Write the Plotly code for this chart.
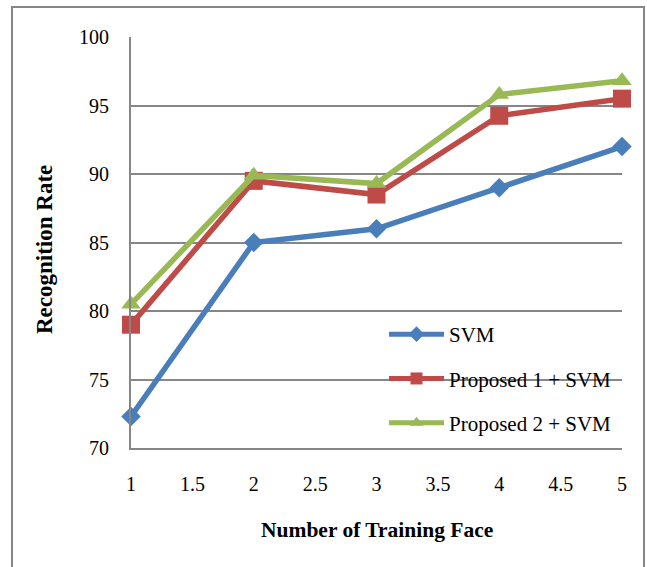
import plotly.graph_objects as go

# Recognition rate vs. number of training faces
training_faces = [1, 2, 3, 4, 5]
svm = [72.3, 85.0, 86.0, 89.0, 92.0]
proposed1_svm = [79.0, 89.5, 88.5, 94.25, 95.5]
proposed2_svm = [80.5, 89.9, 89.3, 95.8, 96.8]

series = [
    ("SVM", svm, "#4A7EBB", "diamond", 15),
    ("Proposed 1 + SVM", proposed1_svm, "#BE4B48", "square", 18),
    ("Proposed 2 + SVM", proposed2_svm, "#98B954", "triangle-up", 17),
]

FONT = "Liberation Serif, Times New Roman, serif"

fig = go.Figure()
for i, (name, vals, color, sym, size) in enumerate(series):
    fig.add_trace(go.Scatter(
        x=training_faces, y=vals, name=name, mode="lines+markers",
        line=dict(color=color, width=5.5),
        marker=dict(symbol=sym, size=size, color=color),
        legendgroup=f"g{i}", cliponaxis=False,
    ))

W, H = 647, 567
L, R, T, B = 131, 25, 37, 119
pw, ph = W - L - R, H - T - B


def px(xp):
    return (xp - L) / pw


def py(yp):
    return (H - B - yp) / ph


fig.update_layout(
    width=W, height=H,
    margin=dict(l=L, r=R, t=T, b=B),
    paper_bgcolor="white", plot_bgcolor="white",
    font=dict(family=FONT, size=20, color="black"),
    showlegend=True,
    legend=dict(
        x=px(384), y=py(314), xanchor="left", yanchor="top",
        bgcolor="rgba(0,0,0,0)", font=dict(size=21, family=FONT),
        itemwidth=55, tracegroupgap=14, itemsizing="constant",
    ),
    xaxis=dict(
        range=[1, 5], tickvals=[1, 1.5, 2, 2.5, 3, 3.5, 4, 4.5, 5],
        ticktext=["1", "1.5", "2", "2.5", "3", "3.5", "4", "4.5", "5"],
        showgrid=False, zeroline=False, showline=True, linecolor="#868686",
        linewidth=2, ticks="", ticklabelstandoff=17,
        tickfont=dict(size=20, family=FONT),
    ),
    yaxis=dict(
        range=[70, 100], tickvals=[70, 75, 80, 85, 90, 95, 100],
        showgrid=True, gridcolor="#868686", gridwidth=1.6, zeroline=False,
        showline=True, linecolor="#868686", linewidth=2, ticks="",
        ticklabelstandoff=16, tickfont=dict(size=20, family=FONT),
    ),
    annotations=[
        dict(text="<b>Number of Training Face</b>", xref="paper", yref="paper",
             x=0.5, y=py(530), xanchor="center", yanchor="middle",
             showarrow=False, font=dict(size=21.5, family=FONT)),
        dict(text="<b>Recognition Rate</b>", xref="paper", yref="paper",
             x=px(45), y=py(250), xanchor="center", yanchor="middle", textangle=-90,
             showarrow=False, font=dict(size=23, family=FONT)),
    ],
    shapes=[
        dict(type="rect", xref="paper", yref="paper",
             x0=px(12), x1=px(644), y0=py(575), y1=py(7),
             line=dict(color="#868686", width=2), layer="below"),
    ],
)

fig.write_html("out.html")
